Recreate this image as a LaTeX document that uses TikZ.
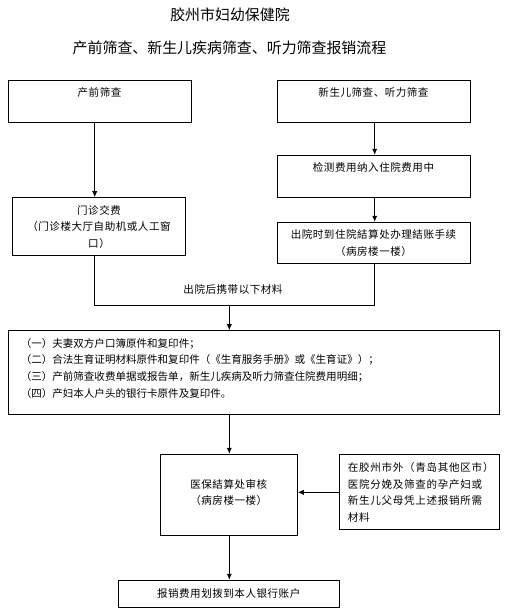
\documentclass[tikz,border=0pt]{standalone}
\usepackage{fontspec}
\setmainfont{Noto Sans CJK SC}
\usetikzlibrary{arrows.meta,fit}
\begin{document}
\begin{tikzpicture}[x=0.75pt,y=-0.75pt,
  box/.style={draw, line width=0.75pt, inner sep=0pt},
  txt/.style={inner sep=0pt, font={\fontsize{7.9pt}{12.4pt}\selectfont\addfontfeature{LetterSpace=5}}, align=center},
  ltxt/.style={inner sep=0pt, font={\fontsize{7.9pt}{12.4pt}\selectfont}, align=left, anchor=west},
  ttl/.style={inner sep=0pt, font={\fontsize{11.2pt}{13pt}\selectfont}},
  arr/.style={line width=0.75pt, -{Latex[length=4.5pt,width=4pt]}},
  ln/.style={line width=0.75pt}]
\useasboundingbox (0,0) rectangle (505,615);
\fill[white] (0,0) rectangle (505,615);

% titles
\node[ttl] (t1) at (230,14.5) {胶州市妇幼保健院};
\node[ttl] (t2) at (229.5,48) {产前筛查、新生儿疾病筛查、听力筛查报销流程};

% boxes
\coordinate (b1a) at (8.3,80.3);   \coordinate (b1b) at (191.3,122.3);
\coordinate (b2a) at (277.3,80.3); \coordinate (b2b) at (470.3,122.3);
\coordinate (b3a) at (12.7,197.7); \coordinate (b3b) at (185.3,255.3);
\coordinate (b4a) at (277.3,155.3);\coordinate (b4b) at (470.3,197);
\coordinate (b5a) at (277.3,222.3);\coordinate (b5b) at (470.3,263);
\coordinate (b6a) at (8.3,330.7);  \coordinate (b6b) at (499.3,414);
\coordinate (b7a) at (160.3,454.3);\coordinate (b7b) at (297.3,535.3);
\coordinate (b8a) at (339.3,454.3);\coordinate (b8b) at (499.3,529.3);
\coordinate (b9a) at (118.3,580.3);\coordinate (b9b) at (339,607);

\node[box, fit=(b1a)(b1b)] (b1) {};
\node[box, fit=(b2a)(b2b)] (b2) {};
\node[box, fit=(b3a)(b3b)] (b3) {};
\node[box, fit=(b4a)(b4b)] (b4) {};
\node[box, fit=(b5a)(b5b)] (b5) {};
\node[box, fit=(b6a)(b6b)] (b6) {};
\node[box, fit=(b7a)(b7b)] (b7) {};
\node[box, fit=(b8a)(b8b)] (b8) {};
\node[box, fit=(b9a)(b9b)] (b9) {};

% texts
\node[txt] (x1) at (99.5,92.7) {产前筛查};
\node[txt] (x2) at (373.5,92.7) {新生儿筛查、听力筛查};
\node[txt] (x3) at (99,226.7) {门诊交费\\（门诊楼大厅自助机或人工窗\\口）};
\node[txt] (x4) at (373.5,167.7) {检测费用纳入住院费用中};
\node[txt] (x5) at (373.5,242.8) {出院时到住院結算处办理結账手续\\（病房楼一楼）};
\node[ltxt] (x6) at (20.5,368.2) {（一）夫妻双方户口簿原件和复印件；\\（二）合法生育证明材料原件和复印件（《生育服务手册》或《生育证》）；\\（三）产前筛查收费单据或报告单，新生儿疾病及听力筛查住院费用明细；\\（四）产妇本人户头的银行卡原件及复印件。};
\node[txt] (x7) at (228.8,492.5) {医保結算处审核\\（病房楼一楼）};
\node[ltxt, font={\fontsize{7.9pt}{12.4pt}\selectfont\addfontfeature{LetterSpace=7}}] (x8) at (347.5,492.5) {在胶州市外（青岛其他区市）\\医院分娩及筛查的孕产妇或\\新生儿父母凭上述报销所需\\材料};
\node[txt] (x9) at (228.7,593) {报销费用划拨到本人银行账户};
\node[txt] (lab) at (233,289) {出院后携带以下材料};

% connectors
\coordinate (xL) at (94.7,0);
\coordinate (xR) at (374.7,0);
\coordinate (xM) at (229.3,0);
\coordinate (jL) at (94.7,305);
\coordinate (jR) at (374.7,305);
\coordinate (jM) at (229.3,305);
\coordinate (ay) at (0,492.3);

\draw[arr] (b1.south -| xL) -- (b3.north -| xL);
\draw[arr] (b2.south -| xR) -- (b4.north -| xR);
\draw[arr] (b4.south -| xR) -- (b5.north -| xR);
\draw[ln] (b3.south -| xL) -- (jL) -- (jR) -- (b5.south -| xR);
\draw[arr] (jM) -- (b6.north -| xM);
\draw[arr] (b6.south -| xM) -- (b7.north -| xM);
\draw[arr] (b8.west |- ay) -- (b7.east |- ay);
\draw[arr] (b7.south -| xM) -- (b9.north -| xM);
\end{tikzpicture}
\end{document}
